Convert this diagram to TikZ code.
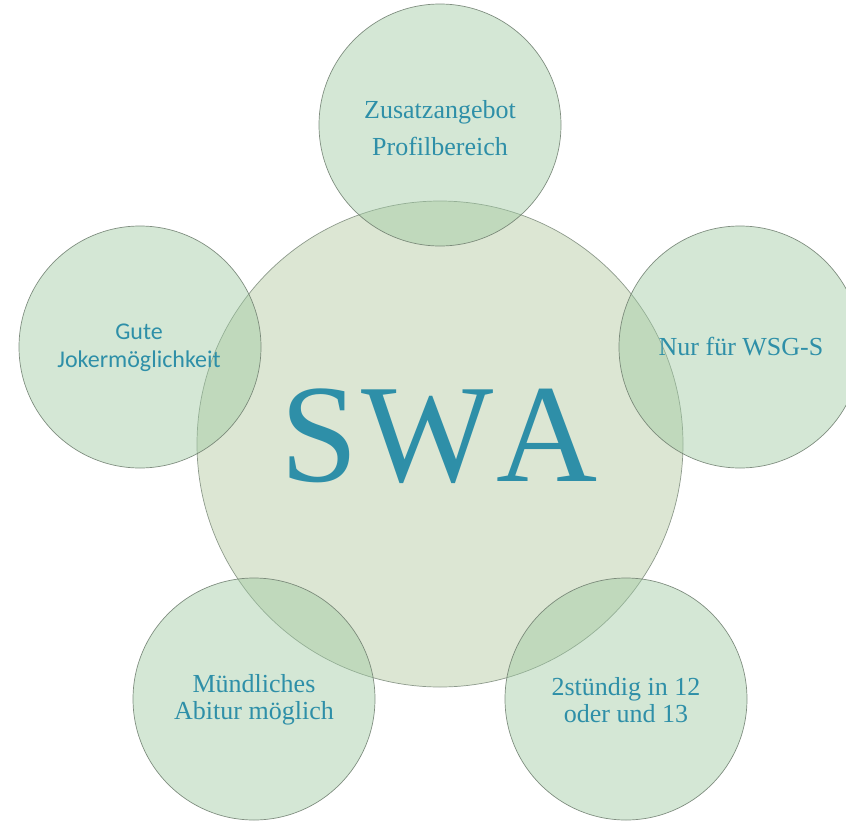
\documentclass[tikz,border=0pt]{standalone}
\usepackage{fontspec}
\setmainfont{Liberation Serif}
\newfontfamily\carlito{Carlito}
\definecolor{txt}{RGB}{46,143,168}
\definecolor{satfill}{RGB}{159,202,162}
\definecolor{cenfill}{RGB}{220,230,211}
\definecolor{edge}{RGB}{110,125,110}
\begin{document}
\begin{tikzpicture}[x=1pt,y=-1pt,
  sat/.style={circle,minimum size=242pt,inner sep=0pt,fill=satfill,fill opacity=0.45,draw=edge,draw opacity=0.85,line width=0.7pt,text opacity=1,text=txt,align=center},
  cen/.style={circle,minimum size=486pt,inner sep=0pt,fill=cenfill,draw=edge,draw opacity=0.75,line width=0.7pt,text=txt},
  lbl/.style={text=txt,align=center,font=\fontsize{26}{37}\selectfont},
  lbltight/.style={text=txt,align=center,font=\fontsize{26}{27}\selectfont}]
\useasboundingbox (0,0) rectangle (846,822);
\clip (0,0) rectangle (846,822);
\node[cen] (c) at (440,444) {};
\node[text=txt,font=\fontsize{140}{140}\selectfont] (swa) at (439,436) {S\kern3pt W\kern3pt A};
\node[sat] (t) at (440,125) {};
\node[lbl] (tl) at (440,128) {Zusatzangebot\\Profilbereich};
\node[sat] (r) at (740,347) {};
\node[lbl] (rl) at (741,347) {Nur für WSG-S};
\node[sat] (l) at (140,347) {};
\node[text=txt,align=center,font=\carlito\fontsize{24}{28}\selectfont] (ll) at (139,348) {Gute\\Jokermöglichkeit};
\node[sat] (bl) at (254,699) {};
\node[lbltight] (bll) at (254,700) {Mündliches\\Abitur möglich};
\node[sat] (br) at (626,699) {};
\node[lbltight] (brl) at (626,700) {2stündig in 12\\oder und 13};
\end{tikzpicture}
\end{document}
